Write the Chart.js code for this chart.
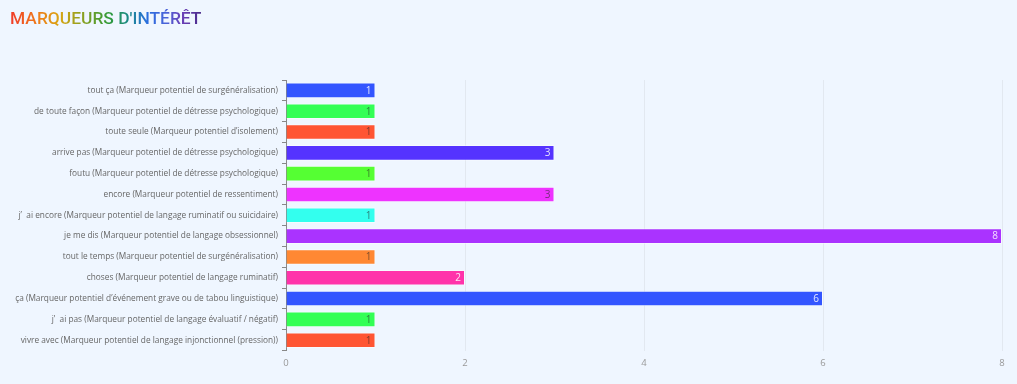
<!DOCTYPE html>
<html>
<head>
<meta charset="utf-8">
<script src="https://cdn.jsdelivr.net/npm/chart.js@4.4.1/dist/chart.umd.min.js"></script>
<style>
html,body{margin:0;padding:0;background:#eff6ff;width:1017px;height:384px;overflow:hidden;}
#title{position:absolute;left:10px;top:7px;font-family:Roboto,"Noto Sans",sans-serif;font-weight:500;font-size:17.4px;line-height:22px;
background:linear-gradient(90deg,#f03a2a 0%,#ef7a1a 14%,#d9a514 26%,#8aa020 38%,#2f9a3a 52%,#1a8a88 62%,#2a6ee0 72%,#4a62d8 82%,#6a40b8 90%,#4a2a8a 100%);
-webkit-background-clip:text;background-clip:text;color:transparent;}
#wrap{position:absolute;left:0;top:0;width:1017px;height:384px;}
</style>
</head>
<body>
<div id="title">MARQUEURS D'INTÉRÊT</div>
<div id="wrap"><canvas id="c"></canvas></div>
<script>
const categories = [
  "tout ça (Marqueur potentiel de surgénéralisation)",
  "de toute façon (Marqueur potentiel de détresse psychologique)",
  "toute seule (Marqueur potentiel d’isolement)",
  "arrive pas (Marqueur potentiel de détresse psychologique)",
  "foutu (Marqueur potentiel de détresse psychologique)",
  "encore (Marqueur potentiel de ressentiment)",
  "j’  ai encore (Marqueur potentiel de langage ruminatif ou suicidaire)",
  "je me dis (Marqueur potentiel de langage obsessionnel)",
  "tout le temps (Marqueur potentiel de surgénéralisation)",
  "choses (Marqueur potentiel de langage ruminatif)",
  "ça (Marqueur potentiel d’événement grave ou de tabou linguistique)",
  "j’  ai pas (Marqueur potentiel de langage évaluatif / négatif)",
  "vivre avec (Marqueur potentiel de langage injonctionnel (pression))"
];
const counts = [1, 1, 1, 3, 1, 3, 1, 8, 1, 2, 6, 1, 1];
const barColors = ["#3355ff","#33ff55","#ff5533","#5533ff","#55ff33","#ee33ff","#33ffee","#aa33ff","#ff8833","#ff33aa","#3355ff","#33ff55","#ff5533"];
const xTicks = [0, 2, 4, 6, 8];
const FONT = '"Open Sans","Noto Sans",sans-serif';

function yiq(hex){
  const r=parseInt(hex.substr(1,2),16),g=parseInt(hex.substr(3,2),16),b=parseInt(hex.substr(5,2),16);
  return (r*299+g*587+b*114)/1000;
}

const labelPlugin = {
  id:'valueLabels',
  afterDatasetsDraw(chart){
    const ctx=chart.ctx;
    const meta=chart.getDatasetMeta(0);
    ctx.save();
    ctx.font='10px '+FONT;
    ctx.textAlign='right';
    ctx.textBaseline='middle';
    meta.data.forEach((bar,i)=>{
      const v=chart.data.datasets[0].data[i];
      ctx.fillStyle = yiq(barColors[i])>=128 ? 'rgba(40,40,40,0.6)' : 'rgba(255,255,255,0.85)';
      ctx.fillText(String(v), bar.x-4, bar.y+0.5);
    });
    ctx.restore();
  }
};

new Chart(document.getElementById('c'),{
  type:'bar',
  data:{
    labels:categories,
    datasets:[{
      data:counts,
      backgroundColor:barColors,
      borderColor:'rgba(255,255,255,0.45)',
      borderWidth:1,
      categoryPercentage:0.75,
      barPercentage:1.0
    }]
  },
  options:{
    indexAxis:'y',
    responsive:true,
    maintainAspectRatio:false,
    animation:false,
    layout:{padding:{top:80,left:10,right:15,bottom:8}},
    plugins:{legend:{display:false},tooltip:{enabled:false},title:{display:false}},
    scales:{
      x:{
        min:0,max:8,
        afterBuildTicks(s){ s.ticks = xTicks.map(v=>({value:v})); },
        grid:{color:'#e2e8f0',drawTicks:false},
        border:{display:false},
        ticks:{color:'#999',font:{size:9.5,family:FONT},padding:7}
      },
      y:{
        afterFit(s){ s.width = 276; },
        grid:{display:true,drawOnChartArea:false,offset:true,tickLength:4,color:'#888'},
        border:{display:true,color:'#888',width:1},
        ticks:{color:'#666',font:{size:8.3,family:FONT},padding:4,autoSkip:false}
      }
    }
  },
  plugins:[labelPlugin]
});
</script>
</body>
</html>
